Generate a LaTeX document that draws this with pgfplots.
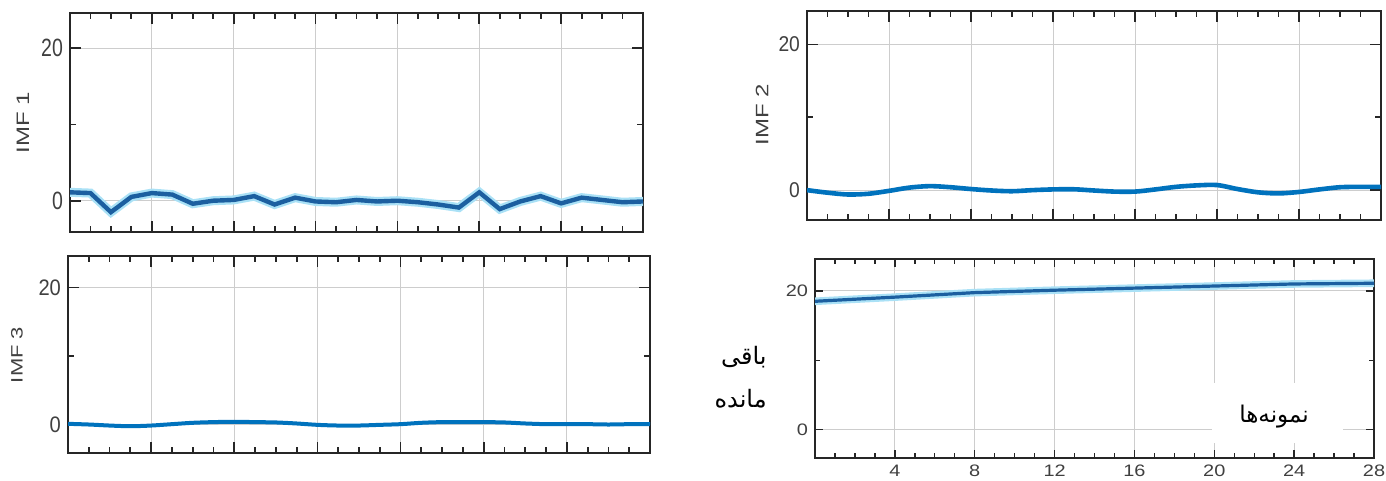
\documentclass[border=0pt]{standalone}
\usepackage{fontspec}
\setmainfont{Liberation Sans}
\newfontfamily\arabicfont[Script=Arabic]{DejaVu Sans}
\TeXXeTstate=1
\usepackage{graphicx}
\usepackage{pgfplots}
\pgfplotsset{compat=1.18}

\definecolor{axgray}{RGB}{38,38,38}
\definecolor{tickgray}{RGB}{64,64,64}
\definecolor{gridgray}{RGB}{205,205,205}
\definecolor{mblue}{RGB}{0,114,189}
\definecolor{dblue}{RGB}{28,95,160}
\definecolor{halo}{RGB}{170,225,246}

\pgfplotstableread{
x y
0 1.1
1 1.0
2 -1.5
3 0.5
4 1.0
5 0.8
6 -0.4
7 0.0
8 0.1
9 0.6
10 -0.5
11 0.4
12 -0.1
13 -0.2
14 0.1
15 -0.1
16 0.0
17 -0.2
18 -0.5
19 -0.9
20 1.1
21 -1.1
22 -0.1
23 0.6
24 -0.35
25 0.4
26 0.1
27 -0.2
28 -0.1
}\imfone

\pgfplotstableread{
x y
0 0.0
1 -0.35
2 -0.6
3 -0.5
4 -0.1
5 0.35
6 0.55
7 0.4
8 0.15
9 -0.05
10 -0.15
11 0.0
12 0.1
13 0.12
14 -0.05
15 -0.2
16 -0.2
17 0.1
18 0.45
19 0.65
20 0.7
21 0.15
22 -0.3
23 -0.45
24 -0.25
25 0.1
26 0.4
27 0.45
28 0.45
}\imftwo

\pgfplotstableread{
x y
0 0.15
1 0.05
2 -0.1
3 -0.2
4 -0.1
5 0.1
6 0.3
7 0.4
8 0.45
9 0.4
10 0.35
11 0.2
12 0.0
13 -0.1
14 -0.1
15 0.0
16 0.1
17 0.3
18 0.4
19 0.4
20 0.4
21 0.35
22 0.2
23 0.1
24 0.1
25 0.1
26 0.05
27 0.1
28 0.1
}\imfthree

\pgfplotstableread{
x y
0 18.5
4 19.1
8 19.75
12 20.1
16 20.4
20 20.7
24 21.0
28 21.1
}\resid

\pgfplotsset{
  imf/.style={
    scale only axis, anchor=south west,
    xmin=0, xmax=28, ymin=-4.1, ymax=24.6,
    xtick={0,4,...,28}, minor xtick={0,...,28}, xticklabels={},
    ytick={0,20}, minor ytick={10},
    grid=major, major grid style={gridgray, line width=0.5pt},
    axis line style={axgray, line width=0.9pt},
    tick style={axgray, line width=0.9pt},
    major tick length=5.5pt, minor tick length=3pt,
    tick align=inside,
    /pgf/number format/assume math mode=true,
    yticklabel style={text=tickgray},
  },
}

\begin{document}
\begin{tikzpicture}
\useasboundingbox (0,0) rectangle (693pt,240.5pt);

% IMF 1
\begin{axis}[imf, at={(35pt,124.5pt)}, width=286.5pt, height=109.5pt,
  yticklabel={\scalebox{0.78}[1]{\fontsize{12.5}{14}\selectfont\pgfmathprintnumber{\tick}}}]
\addplot[halo, line width=4.5pt] table[x=x,y=y] {\imfone};
\addplot[dblue, line width=2.2pt] table[x=x,y=y] {\imfone};
\end{axis}

% IMF 2
\begin{axis}[imf, at={(403.5pt,130.5pt)}, width=287pt, height=104.5pt,
  yticklabel={\scalebox{0.9}[1]{\fontsize{10.7}{13}\selectfont\pgfmathprintnumber{\tick}}}]
\addplot[mblue, line width=2.3pt, smooth] table[x=x,y=y] {\imftwo};
\end{axis}

% IMF 3
\begin{axis}[imf, at={(34pt,14pt)}, width=291pt, height=98.5pt,
  yticklabel={\scalebox{0.9}[1]{\fontsize{11.2}{13}\selectfont\pgfmathprintnumber{\tick}}}]
\addplot[mblue, line width=2pt, smooth] table[x=x,y=y] {\imfthree};
\end{axis}

% Residual
\begin{axis}[imf, at={(407.5pt,11.5pt)}, width=279.5pt, height=99.5pt,
  xtick={4,8,...,28},
  xticklabel={\scalebox{1.2}[1]{\fontsize{8.3}{10}\selectfont\pgfmathprintnumber{\tick}}},
  yticklabel={\scalebox{1.2}[1]{\fontsize{8.3}{10}\selectfont\pgfmathprintnumber{\tick}}},
  xticklabel style={text=tickgray},
  axis line style={axgray, line width=0.8pt},
  tick style={axgray, line width=0.7pt},
  major tick length=4pt, minor tick length=2.5pt]
\addplot[halo, line width=3.8pt] table[x=x,y=y] {\resid};
\addplot[dblue, line width=1.6pt] table[x=x,y=y] {\resid};
\end{axis}

% axis labels
\node[rotate=90, text=tickgray] at (11.5pt,179pt) {\scalebox{1}[0.75]{\fontsize{12}{14}\selectfont IMF 1}};
\node[rotate=90, text=tickgray] at (381pt,183pt) {\scalebox{1}[0.75]{\fontsize{12}{14}\selectfont IMF 2}};
\node[rotate=90, text=tickgray] at (8.5pt,63pt) {\scalebox{1}[0.75]{\fontsize{11}{13}\selectfont IMF 3}};

\node[anchor=east, inner sep=0pt] at (383.5pt,62pt) {\arabicfont\fontsize{12}{14}\selectfont\beginR باقی\endR};
\node[anchor=east, inner sep=0pt] at (383.5pt,41pt) {\arabicfont\fontsize{12}{14}\selectfont\beginR مانده\endR};

\node[fill=white, minimum width=65.5pt, minimum height=30pt, inner sep=0pt] at (638.75pt,34pt) {};
\node[inner sep=0pt] at (637pt,32pt)
  {\arabicfont\fontsize{11.5}{13}\selectfont\beginR نمونه‌ها\endR};
\end{tikzpicture}
\end{document}
